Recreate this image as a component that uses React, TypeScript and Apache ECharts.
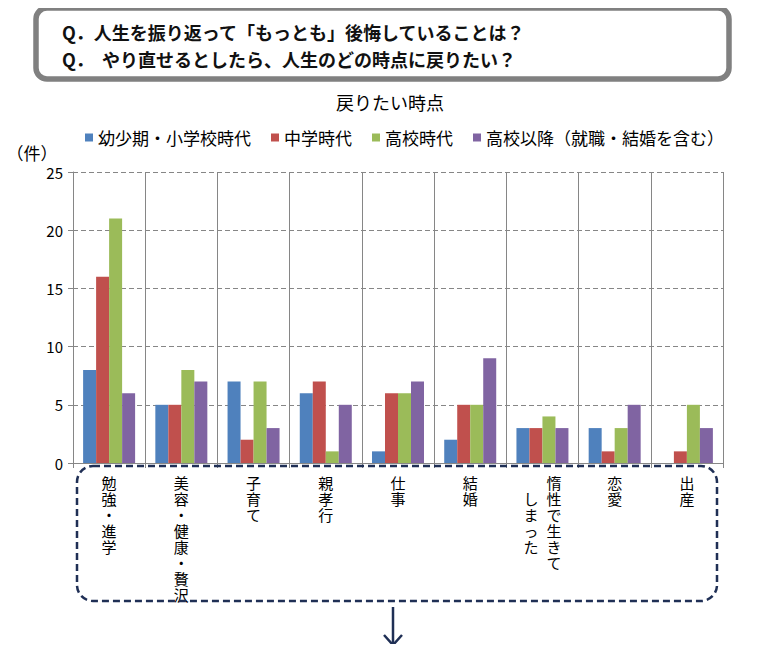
import React, { useEffect, useRef } from "react";
import * as echarts from "echarts";

// 項目（後悔していること）
const categories = [
  "勉強・進学",
  "美容・健康・贅沢",
  "子育て",
  "親孝行",
  "仕事",
  "結婚",
  "惰性で生きて\nしまった",
  "恋愛",
  "出産",
];

// 戻りたい時点ごとの件数
const seriesNames = ["幼少期・小学校時代", "中学時代", "高校時代", "高校以降（就職・結婚を含む）"];
const childhood = [8, 5, 7, 6, 1, 2, 3, 3, 0];
const juniorHigh = [16, 5, 2, 7, 6, 5, 3, 1, 1];
const highSchool = [21, 8, 7, 1, 6, 5, 4, 3, 5];
const afterHighSchool = [6, 7, 3, 5, 7, 9, 3, 5, 3];
const seriesValues = [childhood, juniorHigh, highSchool, afterHighSchool];
const seriesColors = ["#4F81BD", "#C0504D", "#9BBB59", "#8064A2"];

const yTicks = { min: 0, max: 25, interval: 5 };

const titleText = "戻りたい時点";
const unitText = "（件）";
const questionLines = [
  "Q．人生を振り返って「もっとも」後悔していることは？",
  "Q．  やり直せるとしたら、人生のどの時点に戻りたい？",
];

const FONT = "'Noto Sans CJK JP', 'Noto Sans', sans-serif";
const GRID = "#868686";
const NAVY = "#1F2F55";

// 縦書きラベル：1文字ずつ改行し、複数列は右から左へ並べる
function verticalLabel(label: string): string {
  const cols = label.split("\n");
  if (cols.length === 1) return Array.from(label).join("\n");
  const chars = cols.map((c) => Array.from(c));
  const rows = Math.max(...chars.map((c, i) => c.length + i));
  const lines: string[] = [];
  for (let r = 0; r < rows; r++) {
    const parts: string[] = [];
    for (let i = chars.length - 1; i >= 0; i--) {
      const ch = chars[i][r - i] || "　";
      parts.push(`{c|${ch}}`);
    }
    lines.push(parts.join(""));
  }
  return lines.join("\n");
}

export default function App() {
  const ref = useRef<HTMLDivElement>(null);

  useEffect(() => {
    if (!ref.current) return;
    const chart = echarts.init(ref.current, null, { renderer: "svg" });

    chart.setOption({
      animation: false,
      backgroundColor: "#ffffff",
      textStyle: { fontFamily: FONT },
      grid: { left: 73, right: 42, top: 172, bottom: 189, containLabel: false },
      legend: {
        data: seriesNames,
        left: 80,
        top: 124,
        icon: "rect",
        itemWidth: 8,
        itemHeight: 8,
        itemGap: 20,
        textStyle: { fontSize: 17, color: "#000", fontFamily: FONT },
      },
      xAxis: {
        type: "category",
        data: categories,
        axisLine: { show: true, lineStyle: { color: GRID, width: 1 } },
        axisTick: { show: true, length: 5, lineStyle: { color: GRID } },
        splitLine: { show: true, lineStyle: { color: GRID, width: 1, type: "solid" } },
        axisLabel: {
          interval: 0,
          margin: 11,
          fontSize: 15,
          lineHeight: 16,
          color: "#000",
          fontFamily: FONT,
          formatter: (v: string) => verticalLabel(v),
          rich: {
            c: { width: 23, align: "center", fontSize: 15, lineHeight: 16, color: "#000", fontFamily: FONT },
          },
        },
      },
      yAxis: {
        type: "value",
        min: yTicks.min,
        max: yTicks.max,
        interval: yTicks.interval,
        axisLine: { show: true, lineStyle: { color: GRID, width: 1 } },
        axisTick: { show: true, length: 5, lineStyle: { color: GRID } },
        splitLine: { show: true, lineStyle: { color: GRID, width: 1, type: [5, 3] } },
        axisLabel: { fontSize: 15, color: "#000", margin: 10, fontFamily: FONT },
      },
      series: seriesValues.map((vals, i) => ({
        name: seriesNames[i],
        type: "bar",
        data: vals,
        barWidth: 13,
        barGap: "0%",
        itemStyle: { color: seriesColors[i] },
      })),
      graphic: [
        // 設問ボックス
        {
          type: "rect",
          shape: { x: 36, y: 8, width: 693, height: 71, r: 11 },
          style: { fill: "#fff", stroke: "#808080", lineWidth: 5.5 },
          z: 10,
        },
        {
          type: "text",
          x: 62,
          y: 32,
          style: {
            text: questionLines[0],
            font: `bold 18px ${FONT}`,
            fill: "#111",
            textVerticalAlign: "middle",
          },
          z: 11,
        },
        {
          type: "text",
          x: 62,
          y: 59,
          style: {
            text: questionLines[1],
            font: `bold 18px ${FONT}`,
            fill: "#111",
            textVerticalAlign: "middle",
          },
          z: 11,
        },
        // グラフタイトル
        {
          type: "text",
          x: 390,
          y: 102,
          style: {
            text: titleText,
            font: `18px ${FONT}`,
            fill: "#000",
            textAlign: "center",
            textVerticalAlign: "middle",
          },
        },
        // 単位
        {
          type: "text",
          x: 32,
          y: 152,
          style: {
            text: unitText,
            font: `17px ${FONT}`,
            fill: "#000",
            textAlign: "center",
            textVerticalAlign: "middle",
          },
        },
        // 項目ラベルを囲む点線枠
        {
          type: "rect",
          shape: { x: 77, y: 466, width: 640, height: 135, r: 16 },
          style: { fill: "none", stroke: NAVY, lineWidth: 2.5, lineDash: [7, 4] },
          z: 5,
        },
        // 下向き矢印
        {
          type: "line",
          shape: { x1: 393, y1: 607, x2: 393, y2: 644 },
          style: { stroke: NAVY, lineWidth: 2.5 },
        },
        {
          type: "polyline",
          shape: { points: [[384, 635], [393, 645], [402, 635]] },
          style: { stroke: NAVY, lineWidth: 2.5, fill: "none" },
        },
      ],
    });

    return () => chart.dispose();
  }, []);

  return <div ref={ref} style={{ width: 765, height: 652, margin: -8 }} />;
}
